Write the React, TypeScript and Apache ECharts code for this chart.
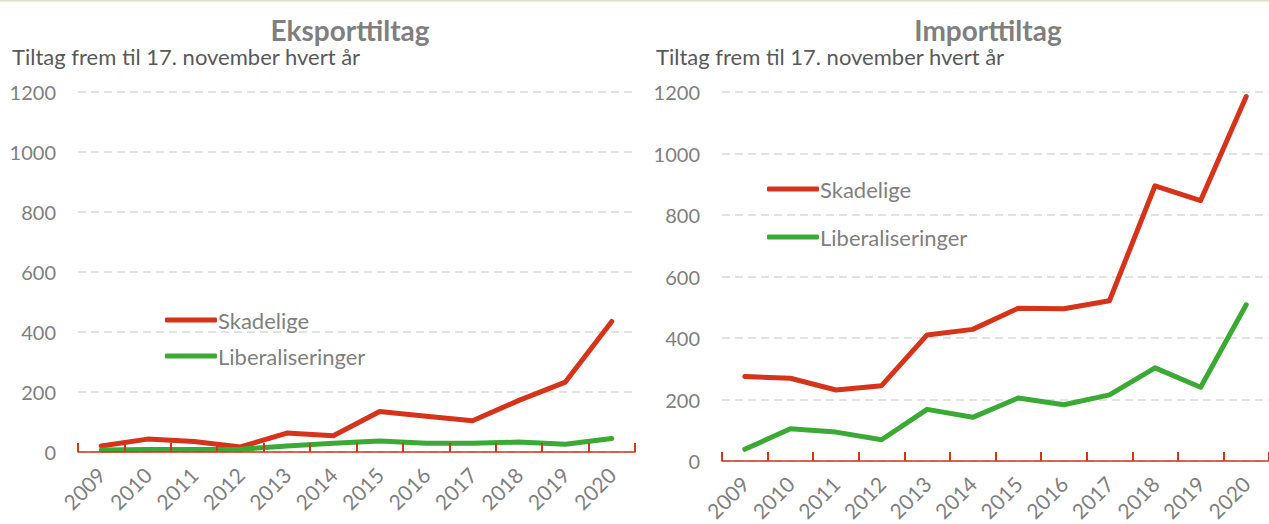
import React, { useEffect, useRef } from "react";
import * as echarts from "echarts";

const years = ["2009", "2010", "2011", "2012", "2013", "2014", "2015", "2016", "2017", "2018", "2019", "2020"];
const exportSkadelige = [20, 43, 35, 17, 63, 54, 135, 119, 104, 172, 233, 435];
const exportLiberaliseringer = [7, 8, 8, 9, 20, 29, 37, 29, 29, 33, 26, 45];
const importSkadelige = [275, 269, 231, 245, 410, 428, 497, 495, 521, 895, 847, 1185];
const importLiberaliseringer = [38, 105, 94, 69, 168, 142, 205, 183, 215, 303, 240, 508];
const yTicks = [0, 200, 400, 600, 800, 1000, 1200];
const seriesNames = ["Skadelige", "Liberaliseringer"];
const titles = ["Eksporttiltag", "Importtiltag"];
const subtitle = "Tiltag frem til 17. november hvert år";

const RED = "#d5331a";
const GREEN = "#3aaa35";
const GRAY = "#7f7f7f";
const FONT = "Lato, 'Open Sans', sans-serif";

export default function App() {
  const ref = useRef<HTMLDivElement>(null);
  useEffect(() => {
    document.body.style.margin = "0";
    const chart = echarts.init(ref.current!, null, { renderer: "svg" });
    const xAxis = (gi: number) => ({
      type: "category",
      gridIndex: gi,
      data: years,
      boundaryGap: true,
      axisLine: { show: true, onZero: false, lineStyle: { color: RED, width: 1.5 } },
      axisTick: { show: true, inside: true, length: 9, alignWithLabel: false, lineStyle: { color: RED, width: 2 } },
      axisLabel: { rotate: 45, color: GRAY, fontSize: 21, fontFamily: FONT, margin: 19, interval: 0 },
      z: 5,
    });
    const yAxis = (gi: number) => ({
      type: "value",
      gridIndex: gi,
      min: yTicks[0],
      max: yTicks[yTicks.length - 1],
      interval: 200,
      axisLine: { show: false },
      axisTick: { show: false },
      axisLabel: { color: GRAY, fontSize: 20, fontFamily: FONT, margin: 22, formatter: (v: number) => String(v) },
      splitLine: { lineStyle: { color: "#d9d9d9", width: 1.5, type: [8, 5] } },
    });
    const line = (name: string, data: number[], color: string, gi: number) => ({
      type: "line",
      name,
      data,
      xAxisIndex: gi,
      yAxisIndex: gi,
      showSymbol: false,
      symbol: "none",
      lineStyle: { color, width: 5, cap: "round", join: "round" },
      itemStyle: { color },
      z: name === seriesNames[0] ? 2 : 3,
    });
    const legend = (left: number, top: number, gap: number) => ({
      left,
      top,
      orient: "vertical",
      itemWidth: 52,
      itemHeight: 5,
      itemGap: gap,
      icon: "roundRect",
      selectedMode: false,
      data: seriesNames,
      textStyle: { color: GRAY, fontSize: 22, fontFamily: FONT, padding: [0, 0, 0, -4] },
    });
    chart.setOption({
      animation: false,
      backgroundColor: "#ffffff",
      title: [
        { text: titles[0], left: 350, top: 16, padding: 0, textAlign: "center", textStyle: { color: GRAY, fontSize: 28, fontWeight: "bold", fontFamily: FONT } },
        { text: titles[1], left: 988, top: 16, padding: 0, textAlign: "center", textStyle: { color: GRAY, fontSize: 28, fontWeight: "bold", fontFamily: FONT } },
        { text: subtitle, left: 12, top: 45, padding: 0, textStyle: { color: "#595959", fontSize: 22, fontWeight: "normal", fontFamily: FONT } },
        { text: subtitle, left: 656, top: 45, padding: 0, textStyle: { color: "#595959", fontSize: 22, fontWeight: "normal", fontFamily: FONT } },
      ],
      legend: [legend(160, 304, 14), legend(762, 173, 26)],
      grid: [
        { left: 78, top: 92, width: 557, height: 360 },
        { left: 722, top: 92, width: 554, height: 369 },
      ],
      xAxis: [xAxis(0), xAxis(1)],
      yAxis: [yAxis(0), yAxis(1)],
      series: [
        line(seriesNames[0], exportSkadelige, RED, 0),
        line(seriesNames[1], exportLiberaliseringer, GREEN, 0),
        line(seriesNames[0], importSkadelige, RED, 1),
        line(seriesNames[1], importLiberaliseringer, GREEN, 1),
      ],
      graphic: [
        { type: "rect", left: 0, top: 0, shape: { width: 1269, height: 1.5 }, style: { fill: "#d7e4bd" } },
      ],
    });
    return () => chart.dispose();
  }, []);
  return <div ref={ref} style={{ width: 1269, height: 524 }} />;
}
